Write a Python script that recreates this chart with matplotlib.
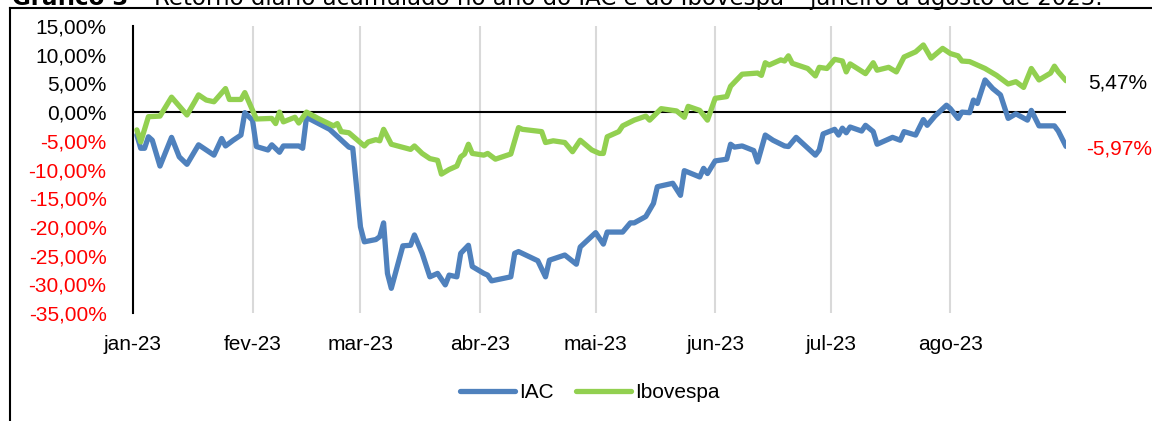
import pandas as pd
import matplotlib.pyplot as plt
from matplotlib.lines import Line2D

plt.rcParams["font.family"] = ["Liberation Sans", "DejaVu Sans"]

# IAC, retorno acumulado (%)
iac_days = ["01-02", "01-03", "01-04", "01-05", "01-06", "01-08", "01-11", "01-13", "01-15", "01-18",
            "01-20", "01-22", "01-24", "01-25", "01-27", "01-29", "01-30", "02-01", "02-02", "02-05",
            "02-06", "02-08", "02-09", "02-13", "02-14", "02-15", "02-21", "02-26", "02-27", "03-01",
            "03-02", "03-05", "03-06", "03-07", "03-08", "03-09", "03-12", "03-14", "03-15", "03-17",
            "03-19", "03-21", "03-23", "03-24", "03-26", "03-27", "03-29", "03-30", "04-02", "04-03",
            "04-04", "04-09", "04-10", "04-11", "04-16", "04-18", "04-19", "04-23", "04-26", "04-27",
            "05-01", "05-03", "05-04", "05-08", "05-10", "05-11", "05-14", "05-16", "05-17", "05-21",
            "05-23", "05-24", "05-28", "05-29", "05-30", "06-01", "06-04", "06-05", "06-06", "06-08",
            "06-11", "06-12", "06-14", "06-16", "06-19", "06-20", "06-22", "06-27", "06-28", "06-29",
            "07-02", "07-03", "07-04", "07-05", "07-06", "07-09", "07-10", "07-12", "07-13", "07-17",
            "07-19", "07-20", "07-23", "07-25", "07-26", "07-28", "07-31", "08-01", "08-03", "08-04",
            "08-06", "08-07", "08-08", "08-10", "08-12", "08-14", "08-16", "08-18", "08-21", "08-22",
            "08-24", "08-28", "08-29", "08-31"]
iac_values = [-4.0, -6.3, -6.3, -4.3, -4.9, -9.4, -4.4, -7.8, -9.1, -5.7,
              -6.6, -7.5, -4.6, -5.9, -4.9, -4.0, -0.1, -1.4, -6.0, -6.6,
              -5.7, -7.0, -5.9, -5.9, -6.3, -0.9, -3.0, -6.1, -6.3, -20.0,
              -22.6, -22.2, -21.7, -19.3, -28.1, -30.7, -23.3, -23.2, -21.4, -24.6,
              -28.7, -28.1, -30.1, -28.4, -28.7, -24.6, -23.2, -26.9, -28.1, -28.4,
              -29.4, -28.7, -24.6, -24.3, -25.9, -28.7, -25.8, -24.9, -26.5, -23.5,
              -21.0, -23.0, -20.9, -20.9, -19.3, -19.3, -18.2, -15.9, -13.0, -12.4,
              -14.5, -10.2, -11.3, -9.8, -10.7, -8.5, -8.2, -5.6, -6.1, -5.9,
              -6.7, -8.7, -4.0, -4.9, -5.9, -6.0, -4.4, -7.5, -6.6, -3.8,
              -3.0, -4.0, -2.8, -3.6, -2.6, -3.3, -2.3, -3.4, -5.6, -4.4,
              -4.9, -3.4, -4.0, -1.3, -2.3, -0.7, 1.2, 0.6, -1.1, 0.0,
              -0.1, 2.1, 1.5, 5.6, 4.1, 3.0, -1.1, -0.3, -1.4, 0.3,
              -2.4, -2.4, -3.3, -5.97]

# Ibovespa, retorno acumulado (%)
ibov_days = ["01-02", "01-03", "01-05", "01-08", "01-11", "01-15", "01-17", "01-18", "01-20", "01-22",
             "01-25", "01-26", "01-29", "01-30", "02-02", "02-06", "02-07", "02-08", "02-09", "02-12",
             "02-13", "02-15", "02-18", "02-22", "02-23", "02-24", "02-26", "03-02", "03-03", "03-05",
             "03-06", "03-07", "03-09", "03-14", "03-15", "03-17", "03-19", "03-21", "03-22", "03-24",
             "03-26", "03-27", "03-28", "03-29", "03-30", "04-02", "04-03", "04-05", "04-09", "04-11",
             "04-12", "04-17", "04-18", "04-20", "04-23", "04-25", "04-27", "04-30", "05-02", "05-03",
             "05-04", "05-07", "05-08", "05-11", "05-14", "05-15", "05-18", "05-22", "05-24", "05-25",
             "05-28", "05-30", "06-01", "06-04", "06-05", "06-08", "06-12", "06-13", "06-14", "06-15",
             "06-18", "06-19", "06-20", "06-21", "06-25", "06-27", "06-28", "06-30", "07-02", "07-04",
             "07-05", "07-06", "07-10", "07-12", "07-13", "07-16", "07-18", "07-20", "07-23", "07-25",
             "07-27", "07-30", "08-01", "08-03", "08-04", "08-06", "08-09", "08-10", "08-13", "08-16",
             "08-18", "08-20", "08-22", "08-24", "08-27", "08-28", "08-29", "08-31"]
ibov_values = [-3.1, -5.2, -0.8, -0.7, 2.6, -0.5, 1.8, 3.0, 2.1, 1.8,
               4.1, 2.2, 2.2, 3.4, -1.2, -1.1, -2.0, 0.0, -1.7, -0.9,
               -1.9, 0.0, -1.1, -2.4, -2.0, -3.4, -3.6, -5.9, -5.2, -4.8,
               -5.0, -3.0, -5.6, -6.5, -5.9, -7.2, -8.1, -8.4, -10.8, -10.0,
               -9.4, -7.8, -7.3, -5.6, -7.2, -7.5, -7.2, -8.2, -7.3, -2.7,
               -3.0, -3.4, -5.3, -5.0, -5.3, -6.9, -4.9, -6.6, -7.2, -7.2,
               -4.3, -3.4, -2.4, -1.4, -0.7, -1.4, 0.6, 0.2, -0.9, 1.0,
               0.3, -1.4, 2.4, 2.7, 4.5, 6.6, 6.8, 6.4, 8.6, 8.2,
               9.1, 8.9, 9.8, 8.5, 7.6, 6.3, 7.8, 7.6, 9.2, 8.9,
               7.0, 8.4, 6.7, 8.6, 7.3, 7.8, 7.0, 9.6, 10.5, 11.7,
               9.4, 11.1, 10.2, 9.8, 8.9, 8.8, 7.9, 7.6, 6.4, 4.9,
               5.3, 4.3, 7.6, 5.6, 6.8, 8.0, 7.0, 5.47]

month_starts = ["01-01", "02-01", "03-01", "04-01", "05-01", "06-01", "07-01", "08-01"]
month_labels = ["jan-23", "fev-23", "mar-23", "abr-23", "mai-23", "jun-23", "jul-23", "ago-23"]
y_ticks = [-35, -30, -25, -20, -15, -10, -5, 0, 5, 10, 15]

iac_x = pd.to_datetime(["2023-" + d for d in iac_days])
ibov_x = pd.to_datetime(["2023-" + d for d in ibov_days])
month_x = pd.to_datetime(["2023-" + d for d in month_starts])

blue = "#4F81BD"
green = "#92D050"

fig = plt.figure(figsize=(11.52, 4.21), dpi=100)
ax = fig.add_axes([133 / 1152, 1 - 313 / 421, (1066 - 133) / 1152, (313 - 26) / 421])

for m in month_x:
    ax.axvline(m, color="#D9D9D9", lw=1.5, zorder=0)
ax.axhline(0, color="black", lw=1.5, zorder=1)

ax.plot(iac_x, iac_values, color=blue, lw=3.8, label="IAC", solid_joinstyle="round", solid_capstyle="round", zorder=2)
ax.plot(ibov_x, ibov_values, color=green, lw=3.8, label="Ibovespa", solid_joinstyle="round", solid_capstyle="round", zorder=3)

ax.set_xlim(pd.Timestamp("2023-01-01"), pd.Timestamp("2023-08-31"))
ax.set_ylim(-35, 15)

ax.set_xticks(month_x)
ax.set_xticklabels(month_labels, fontsize=15)
ax.set_yticks(y_ticks)
ax.set_yticklabels([f"{v:.2f}".replace(".", ",") + "%" for v in y_ticks], fontsize=15)
for lab, v in zip(ax.get_yticklabels(), y_ticks):
    lab.set_color("red" if v < 0 else "black")
ax.tick_params(axis="both", length=0)
ax.tick_params(axis="y", pad=19)
ax.tick_params(axis="x", pad=16)

for s in ["top", "right", "bottom"]:
    ax.spines[s].set_visible(False)
ax.spines["left"].set_linewidth(1.5)

ax.annotate("5,47%", xy=(ibov_x[-1], ibov_values[-1]), xytext=(22, -2), textcoords="offset pixels",
            fontsize=15, color="black", va="center", ha="left", annotation_clip=False)
ax.annotate("-5,97%", xy=(iac_x[-1], iac_values[-1]), xytext=(20, -3), textcoords="offset pixels",
            fontsize=15, color="red", va="center", ha="left", annotation_clip=False)

fig.legend(loc="center", bbox_to_anchor=(0.512, 1 - 393 / 421), ncol=2, frameon=False, fontsize=15,
           handlelength=2.6, handletextpad=0.2, columnspacing=1.1)

# title, cut at the top of the picture as in the source
t1 = fig.text(12 / 1152, 1 - 5 / 421, "Gráfico 3", fontsize=16.5, fontweight="bold",
              family="DejaVu Sans", va="baseline", ha="left")
ax.annotate(" – Retorno diário acumulado no ano do IAC e do Ibovespa – janeiro a agosto de 2023.",
            xy=(1, 0), xycoords=t1, va="bottom", ha="left", fontsize=16.5, family="DejaVu Sans",
            annotation_clip=False)

# frame border
fig.add_artist(Line2D([10 / 1152, 10 / 1152], [0, 1 - 8 / 421], color="black", lw=1.5))
fig.add_artist(Line2D([10 / 1152, 1], [1 - 8 / 421, 1 - 8 / 421], color="black", lw=1.5))

plt.savefig("out.png", dpi=100)
